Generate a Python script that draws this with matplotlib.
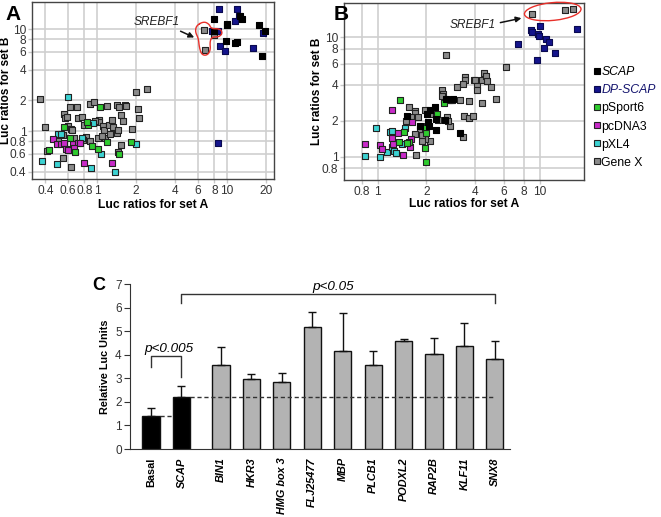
import numpy as np
import matplotlib
matplotlib.use('Agg')
import matplotlib.pyplot as plt
from matplotlib.lines import Line2D
from matplotlib.patches import Ellipse

plt.rcParams['font.family'] = ['Liberation Sans', 'DejaVu Sans']

# ---------------- panel A data (set A ratio, set B ratio) ----------------
a_gene_x = [0.366, 0.40, 0.41, 0.55, 0.50, 0.56, 0.57, 0.59, 0.62, 0.60, 0.63, 0.64, 0.66, 0.70,
            0.72, 0.76, 0.80, 0.82, 0.88, 0.89, 0.63, 1.03, 1.02, 1.04, 1.12, 1.14, 1.16, 1.20,
            1.23, 1.25, 1.31, 1.33, 1.43, 1.45, 1.42, 1.48, 1.53, 1.58, 1.63, 1.68, 1.52, 1.45,
            1.85, 1.98, 2.05, 2.12, 2.44, 0.94, 0.97, 1.10, 0.78, 0.55, 6.65, 7.9, 6.8]
a_gene_y = [2.08, 1.09, 0.64, 0.55, 0.80, 1.48, 1.35, 1.38, 1.72, 1.12, 1.06, 1.02, 0.85, 1.72,
            1.35, 1.38, 1.15, 0.88, 1.85, 0.81, 0.45, 1.30, 0.86, 1.22, 1.12, 1.02, 0.86, 1.75,
            1.15, 0.93, 1.30, 1.10, 0.97, 1.02, 1.80, 1.72, 1.45, 1.25, 1.80, 1.78, 0.73, 0.63,
            1.05, 2.44, 1.65, 1.35, 2.57, 1.95, 1.25, 0.90, 0.82, 0.92, 9.9, 8.8, 6.3]
a_scap_x = [7.98, 7.9, 10.0, 10.1, 9.9, 11.5, 11.9, 12.6, 13.0, 17.8, 19.8, 18.5]
a_scap_y = [12.6, 9.6, 11.0, 11.3, 7.7, 7.4, 7.5, 13.5, 12.7, 10.9, 9.6, 5.45]
a_dp_x = [8.67, 12.0, 12.3, 11.5, 7.67, 8.6, 8.9, 9.6, 16.0, 19.0, 8.6]
a_dp_y = [15.6, 15.6, 13.6, 12.0, 9.6, 9.6, 6.9, 6.1, 6.5, 9.1, 0.76]
a_psport_x = [0.43, 0.56, 0.62, 0.68, 0.85, 0.92, 1.05, 1.02, 1.19, 1.47, 1.84, 0.84]
a_psport_y = [0.65, 1.09, 0.85, 0.62, 1.15, 0.72, 1.74, 0.67, 0.78, 0.60, 0.79, 1.22]
a_pcdna_x = [0.46, 0.49, 0.53, 0.56, 0.58, 0.60, 0.65, 0.71, 0.74, 0.80, 1.31, 0.67]
a_pcdna_y = [0.83, 0.75, 0.75, 0.77, 0.67, 0.65, 0.75, 0.77, 0.77, 0.49, 0.49, 0.69]
a_pxl_x = [0.38, 0.49, 0.50, 0.53, 0.60, 0.65, 0.76, 0.90, 0.93, 1.08, 1.37, 2.00]
a_pxl_y = [0.51, 0.48, 0.93, 0.94, 2.18, 0.71, 0.85, 0.44, 1.20, 0.60, 0.40, 0.75]

# ---------------- panel B data ----------------
b_gene_x = [8.93, 14.3, 15.9, 2.64, 6.15, 3.45, 3.45, 3.07, 3.35, 3.9, 4.0, 4.1, 4.1, 4.4,
            4.5, 4.65, 4.7, 5.0, 5.4, 4.4, 3.67, 3.2, 2.85, 2.75, 2.48, 2.52, 2.58, 2.88,
            2.50, 3.4, 3.67, 3.85, 3.34, 2.79, 2.66, 2.70, 2.36, 2.10, 1.97, 2.10, 1.97,
            1.87, 1.82, 1.57, 1.70, 1.71, 1.78, 1.60, 1.49, 1.71, 1.87, 1.72, 2.02]
b_gene_y = [15.5, 16.7, 17.2, 7.07, 5.68, 4.68, 4.40, 3.80, 4.05, 4.4, 4.4, 3.9, 3.6, 4.4,
            5.0, 4.7, 4.3, 3.8, 3.06, 2.83, 2.95, 2.98, 3.0, 3.0, 3.6, 3.35, 3.0, 3.0,
            3.2, 2.2, 2.1, 2.2, 1.47, 1.80, 2.15, 1.98, 2.03, 2.30, 2.46, 1.36, 1.40,
            1.53, 1.70, 2.59, 2.40, 2.32, 2.16, 2.16, 1.99, 1.54, 1.36, 1.03, 1.80]
b_scap_x = [1.51, 1.82, 2.02, 2.10, 2.25, 2.30, 2.28, 2.05, 2.06, 2.60, 2.65, 2.90, 3.22]
b_scap_y = [2.19, 1.80, 2.30, 2.45, 2.60, 2.07, 1.67, 1.95, 1.82, 2.03, 3.06, 3.05, 1.59]
b_dp_x = [7.36, 8.8, 9.0, 9.7, 9.9, 10.0, 10.6, 10.9, 11.4, 12.4, 9.6, 16.9]
b_dp_y = [8.7, 11.5, 11.0, 10.6, 10.3, 12.4, 8.1, 9.6, 9.15, 7.4, 6.45, 11.7]
b_psport_x = [1.38, 2.56, 2.33, 1.36, 1.45, 1.56, 1.96, 2.00, 1.96, 1.98, 1.52]
b_psport_y = [2.98, 2.80, 2.30, 1.34, 1.62, 1.34, 1.73, 1.57, 1.19, 0.91, 1.30]
b_pcdna_x = [0.83, 1.04, 1.06, 1.23, 1.23, 1.25, 1.34, 1.44, 1.60, 1.64, 1.58]
b_pcdna_y = [1.28, 1.25, 1.17, 2.46, 1.44, 1.28, 1.57, 1.03, 1.40, 1.96, 1.21]
b_pxl_x = [0.83, 0.98, 1.03, 1.14, 1.20, 1.23, 1.23, 1.27, 1.30, 1.42, 1.47]
b_pxl_y = [1.01, 1.75, 0.99, 1.09, 1.60, 1.65, 1.21, 1.12, 1.08, 1.28, 1.73]

# SREBF1 outline in panel A (data coords)
srebf_outline_x = [5.83, 6.65, 7.31, 7.57, 8.83, 9.26, 8.73, 7.66, 7.39, 7.48, 7.05, 6.38, 6.12, 6.04, 5.70]
srebf_outline_y = [10.9, 11.9, 11.2, 10.1, 10.1, 9.2, 8.4, 8.4, 7.5, 6.24, 5.53, 5.61, 6.72, 8.1, 9.42]

# ---------------- panel C data ----------------
genes = ['Basal', 'SCAP', 'BIN1', 'HKR3', 'HMG box 3', 'FLJ25477', 'MBP',
         'PLCB1', 'PODXL2', 'RAP2B', 'KLF11', 'SNX8']
luc_mean = [1.42, 2.20, 3.57, 2.97, 2.86, 5.16, 4.18, 3.57, 4.58, 4.05, 4.38, 3.82]
luc_top = [1.75, 2.66, 4.31, 3.17, 3.23, 5.82, 5.78, 4.14, 4.69, 4.72, 5.35, 4.60]

series = [
    ('SCAP', '#000000', '#000000'),
    ('DP-SCAP', '#14148c', '#0a0a50'),
    ('pSport6', '#2ecc2e', '#222222'),
    ('pcDNA3', '#c82ac8', '#222222'),
    ('pXL4', '#3cd2d2', '#222222'),
    ('Gene X', '#8a8a8a', '#222222'),
]
a_sets = [(a_scap_x, a_scap_y), (a_dp_x, a_dp_y), (a_psport_x, a_psport_y),
          (a_pcdna_x, a_pcdna_y), (a_pxl_x, a_pxl_y), (a_gene_x, a_gene_y)]
b_sets = [(b_scap_x, b_scap_y), (b_dp_x, b_dp_y), (b_psport_x, b_psport_y),
          (b_pcdna_x, b_pcdna_y), (b_pxl_x, b_pxl_y), (b_gene_x, b_gene_y)]

fig = plt.figure(figsize=(6.61, 5.17), dpi=100)


def style_scatter(ax, xt, yt, xlim, ylim, ylab_x, xlab_y):
    ax.set_xscale('log')
    ax.set_yscale('log')
    ax.set_xlim(*xlim)
    ax.set_ylim(*ylim)
    ax.minorticks_off()
    ax.set_xticks(xt)
    ax.set_xticklabels([('%g' % v) for v in xt])
    ax.set_yticks(yt)
    ax.set_yticklabels([('%g' % v) for v in yt])
    ax.tick_params(length=3, width=1.0, color='#c8c8c8', labelsize=8.6, labelcolor='#333333', pad=1)
    ax.grid(True, color='#cfcfcf', lw=1.2)
    ax.set_axisbelow(True)
    for s in ax.spines.values():
        s.set_color('#444444')
        s.set_linewidth(1.0)
    ax.set_xlabel('Luc ratios for set A', fontsize=8.7, fontweight='bold')
    ax.set_ylabel('Luc ratios for set B', fontsize=8.5, fontweight='bold')
    ax.yaxis.set_label_coords(ylab_x, 0.5)
    ax.xaxis.set_label_coords(0.5, xlab_y)


def chaikin(xs, ys, n=3):
    pts = np.column_stack([np.log10(xs), np.log10(ys)])
    for _ in range(n):
        nxt = np.roll(pts, -1, axis=0)
        q = 0.75 * pts + 0.25 * nxt
        r = 0.25 * pts + 0.75 * nxt
        pts = np.empty((2 * len(q), 2))
        pts[0::2] = q
        pts[1::2] = r
    pts = np.vstack([pts, pts[:1]])
    return 10 ** pts[:, 0], 10 ** pts[:, 1]


# ---- Panel A
axA = fig.add_axes([0.0484, 0.6538, 0.366, 0.342])
style_scatter(axA, [0.4, 0.6, 0.8, 1, 2, 4, 6, 8, 10, 20], [0.4, 0.6, 0.8, 1, 2, 4, 6, 8, 10],
              (0.316, 23), (0.34, 18.4), -0.084, -0.113)
for (name, fc, ec), (xs, ys) in zip(series[::-1], a_sets[::-1]):
    axA.scatter(xs, ys, marker='s', s=20, c=fc, edgecolors=ec, linewidths=0.8, zorder=3)
ox, oy = chaikin(srebf_outline_x, srebf_outline_y)
axA.plot(ox, oy, color='#e8302a', lw=1.0, zorder=4)
axA.annotate('SREBF1', xy=(5.6, 8.3), xytext=(2.9, 11.8), fontsize=8.6, style='italic',
             ha='center', va='center', color='#222222',
             arrowprops=dict(arrowstyle='-|>', color='#111111', lw=1.1, mutation_scale=8,
                             relpos=(0.85, 0.0), shrinkA=1, shrinkB=0))
fig.text(0.008, 0.962, 'A', fontsize=15, fontweight='bold')

# ---- Panel B
axB = fig.add_axes([0.5204, 0.6518, 0.363, 0.342])
style_scatter(axB, [0.8, 1, 2, 4, 6, 8, 10], [0.8, 1, 2, 4, 6, 8, 10],
              (0.62, 18.7), (0.64, 19.2), -0.088, -0.103)
for (name, fc, ec), (xs, ys) in zip(series[::-1], b_sets[::-1]):
    axB.scatter(xs, ys, marker='s', s=20, c=fc, edgecolors=ec, linewidths=0.8, zorder=3)
axB.add_patch(Ellipse((0.870, 0.953), 0.2375, 0.10, angle=8, transform=axB.transAxes,
                      fill=False, ec='#e8302a', lw=1.0, clip_on=False, zorder=4))
axB.annotate('SREBF1', xy=(7.7, 14.4), xytext=(3.88, 12.7), fontsize=8.6, style='italic',
             ha='center', va='center', color='#222222',
             arrowprops=dict(arrowstyle='-|>', color='#111111', lw=1.1, mutation_scale=8,
                             relpos=(1.0, 0.6), shrinkA=1, shrinkB=0))
fig.text(0.505, 0.962, 'B', fontsize=15, fontweight='bold')

handles = [Line2D([], [], marker='s', ls='none', markersize=4.5, markerfacecolor=fc,
                  markeredgecolor=ec, markeredgewidth=0.8) for _, fc, ec in series]
leg = fig.legend(handles, [s[0] for s in series], loc='upper left',
                 bbox_to_anchor=(0.895, 0.872), frameon=False, fontsize=8.8,
                 handletextpad=-0.1, handlelength=0.9, labelspacing=0.5, borderaxespad=0,
                 borderpad=0)
for i, t in enumerate(leg.get_texts()):
    if i < 2:
        t.set_style('italic')
    if i == 1:
        t.set_color('#14146e')

# ---- Panel C
axC = fig.add_axes([0.1967, 0.1315, 0.575, 0.319])
pos = np.r_[0, 1, np.arange(len(genes) - 2) + 2.3]
colors = ['#000000'] * 2 + ['#b3b3b3'] * (len(genes) - 2)
errs = np.array(luc_top) - np.array(luc_mean)
axC.bar(pos, luc_mean, width=0.56, color=colors, edgecolor='#111111', linewidth=1.0, zorder=2)
axC.errorbar(pos, luc_mean, yerr=[np.zeros(len(errs)), errs], fmt='none', ecolor='#111111',
             elinewidth=1.0, capsize=3, capthick=1.0, zorder=3)
axC.plot([pos[0] + 0.28, pos[1] - 0.28], [luc_mean[0]] * 2, ls=(0, (3, 2)), color='#333333', lw=1.0, zorder=4)
axC.plot([pos[1] + 0.28, pos[-1]], [luc_mean[1]] * 2, ls=(0, (3, 2)), color='#333333', lw=1.0, zorder=4)
# significance brackets
axC.plot([pos[0], pos[0], pos[1], pos[1]], [3.5, 3.95, 3.95, 3.05], color='#333333', lw=1.0)
axC.text((pos[0] + pos[1]) / 2 + 0.1, 4.0, 'p<0.005', style='italic', fontsize=9.7, ha='center', va='bottom')
axC.plot([pos[1], pos[1], pos[-1], pos[-1]], [6.19, 6.59, 6.59, 6.19], color='#333333', lw=1.0)
axC.text(6.0, 6.64, 'p<0.05', style='italic', fontsize=9.7, ha='center', va='bottom')
axC.set_xlim(-0.69, 11.8)
axC.set_ylim(0, 7)
axC.set_yticks(range(8))
axC.set_xticks(pos)
axC.set_xticklabels(genes, rotation=90, fontweight='bold', fontsize=7.8)
for i, t in enumerate(axC.get_xticklabels()):
    if i > 0:
        t.set_style('italic')
axC.tick_params(axis='x', length=0, pad=6)
axC.tick_params(axis='y', length=4, labelsize=8.5, colors='#333333', pad=2)
axC.spines['top'].set_visible(False)
axC.spines['right'].set_visible(False)
axC.spines['left'].set_color('#333333')
axC.spines['bottom'].set_color('#333333')
axC.set_ylabel('Relative Luc Units', fontsize=7.8, fontweight='bold')
axC.yaxis.set_label_coords(-0.053, 0.5)
fig.text(0.14, 0.44, 'C', fontsize=13, fontweight='bold')

fig.savefig('out.png', dpi=100)
